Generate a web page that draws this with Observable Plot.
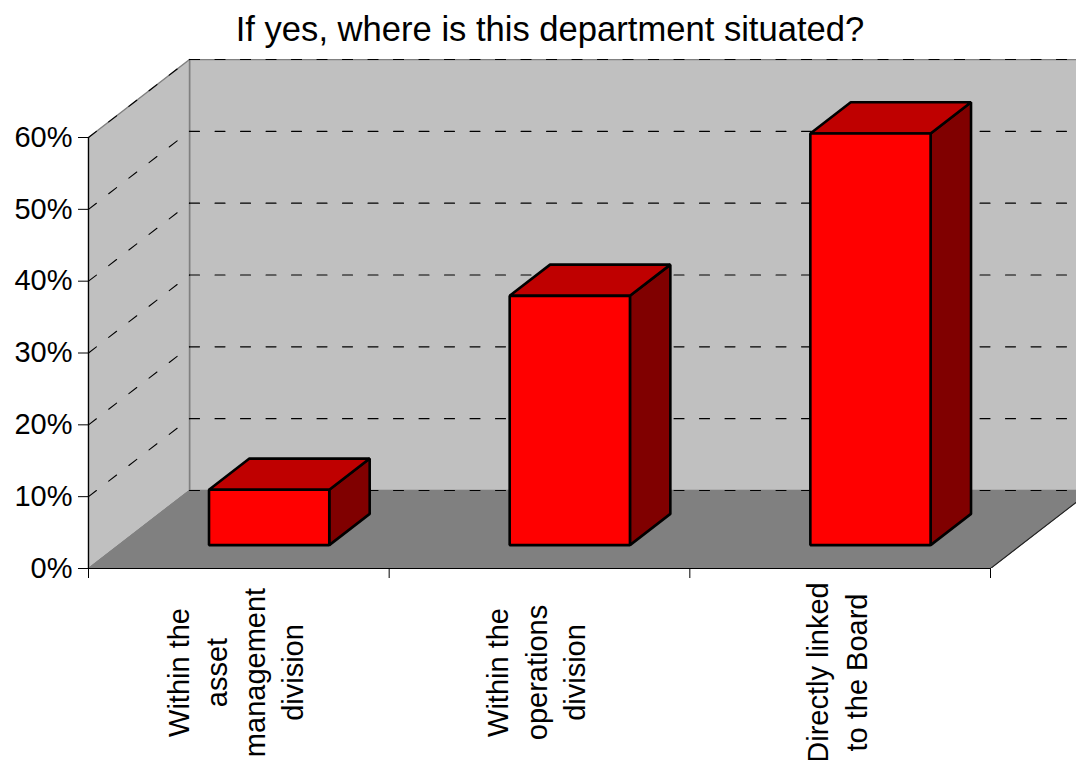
<!DOCTYPE html>
<html>
<head>
<meta charset="utf-8">
<script src="https://cdn.jsdelivr.net/npm/d3@7"></script>
<script src="https://cdn.jsdelivr.net/npm/@observablehq/plot@0.6"></script>
<style>
  html, body { margin: 0; padding: 0; background: #fff; width: 1076px; height: 760px; overflow: hidden; }
  #title { height: 48px; width: 1100px; text-align: center; font: 34.6px/58px "Liberation Sans", Arial, sans-serif; color: #000; white-space: nowrap; }
  svg { display: block; overflow: hidden; }
</style>
</head>
<body>
<div id="title">If yes, where is this department situated?</div>
<div id="chart"></div>
<script>
const categories = ["Within the\nasset\nmanagement\ndivision", "Within the\noperations\ndivision", "Directly linked\nto the Board"];
const shares = [7.7, 34.7, 57.3];
const yTicks = [0, 10, 20, 30, 40, 50, 60];
const xTicks = [0, 1, 2, 3];

// Oblique projection: one unit of depth moves a point right and up.
const depthX = 0.336, depthY = 10.86;
const P = (c, v, d) => ({x: c + d * depthX, y: v + d * depthY});
const poly = (pts, o) => Plot.line(pts.map(p => P(...p)), {x: "x", y: "y", curve: "linear-closed", ...o});
const seg = (a, b, o) => Plot.line([P(...a), P(...b)], {x: "x", y: "y", ...o});

const nCat = categories.length, yTop = yTicks[yTicks.length - 1];
const dash = {stroke: "#000", strokeWidth: 1.1, strokeDasharray: "10 15.5"};
const marks = [];

// Walls and floor
marks.push(poly([[0,0,1],[nCat,0,1],[nCat,yTop,1],[0,yTop,1]], {fill: "#c0c0c0", stroke: "#808080", strokeWidth: 1.5, clip: true}));
marks.push(poly([[0,0,0],[0,0,1],[0,yTop,1],[0,yTop,0]], {fill: "#c0c0c0", stroke: "#808080", strokeWidth: 1.5}));
marks.push(poly([[0,0,0],[nCat,0,0],[nCat,0,1],[0,0,1]], {fill: "#808080", stroke: "#808080", strokeWidth: 1, clip: true}));

// Gridlines on both walls
for (const t of yTicks) {
  marks.push(seg([0,t,1],[nCat,t,1], {...dash, clip: true}));
  if (t > 0) marks.push(seg([0,t,0],[0,t,1], dash));
}
marks.push(seg([nCat,0,0],[nCat,0,1], {stroke: "#222", strokeWidth: 1.1, clip: true}));

// Axes
marks.push(Plot.ruleX([0], {y1: 0, y2: yTop, stroke: "#000", strokeWidth: 1.2}));
marks.push(Plot.ruleY([0], {x1: 0, x2: nCat, stroke: "#000", strokeWidth: 1.2}));
marks.push(Plot.axisY(yTicks, {anchor: "left", tickSize: 10, tickPadding: 6, fontSize: 29, label: null, tickFormat: d => d + "%", stroke: "#000", strokeOpacity: 1, fill: "#000"}));
marks.push(Plot.axisX(xTicks, {anchor: "bottom", tickSize: 10, tickFormat: () => "", label: null, stroke: "#000", strokeOpacity: 1}));

// Bars
const d0 = 0.3, d1 = 0.7, w0 = 0.3, w1 = 0.7;
const edge = {stroke: "#000", strokeWidth: 2.6, strokeLinejoin: "miter"};
shares.forEach((v, i) => {
  const l = i + w0, r = i + w1;
  marks.push(poly([[r,0,d0],[r,0,d1],[r,v,d1],[r,v,d0]], {fill: "#800000", ...edge}));
  marks.push(poly([[l,v,d0],[r,v,d0],[r,v,d1],[l,v,d1]], {fill: "#bf0000", ...edge}));
  marks.push(poly([[l,0,d0],[r,0,d0],[r,v,d0],[l,v,d0]], {fill: "#ff0000", ...edge}));
});

// Category labels, rotated
marks.push(Plot.text(categories, {
  x: (d, i) => i + 0.5, y: () => 0, text: d => d, rotate: -90, dy: 104, dx: -5,
  fontSize: 29, lineHeight: 1.32, lineAnchor: "middle", textAnchor: "middle", fill: "#000"
}));

const chart = Plot.plot({
  width: 1076, height: 712,
  marginLeft: 88, marginRight: 0, marginTop: 11, marginBottom: 192,
  x: {type: "linear", domain: [0, nCat + 86 / 300.67], range: [88, 1076], axis: null},
  y: {type: "linear", domain: [0, yTop + depthY], range: [520, 11], axis: null},
  style: {fontFamily: "'Liberation Sans', Arial, sans-serif", background: "transparent", overflow: "hidden"},
  marks
});
document.getElementById("chart").appendChild(chart);
</script>
</body>
</html>
